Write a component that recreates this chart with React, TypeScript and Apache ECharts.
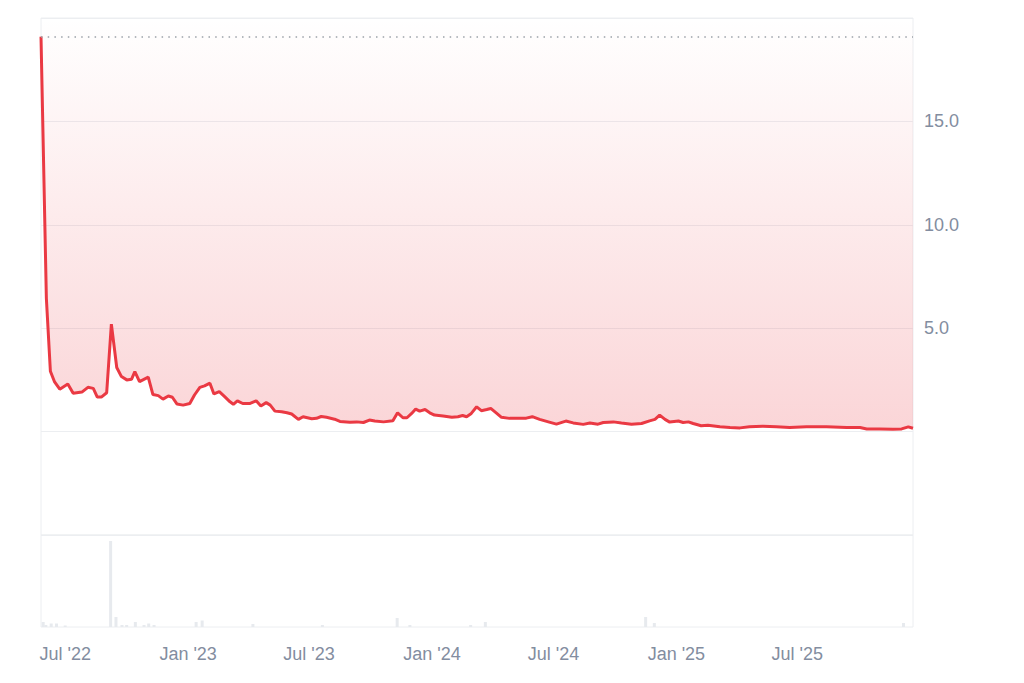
import React, { useEffect, useRef } from "react";
import * as echarts from "echarts";

const priceDates = [
  "2022-05-28", "2022-06-05", "2022-06-11", "2022-06-17", "2022-06-25", "2022-07-07", "2022-07-15", "2022-07-28",
  "2022-08-06", "2022-08-14", "2022-08-20", "2022-08-26", "2022-09-03", "2022-09-10", "2022-09-18", "2022-09-25",
  "2022-10-03", "2022-10-10", "2022-10-15", "2022-10-22", "2022-11-04", "2022-11-11", "2022-11-19", "2022-11-26",
  "2022-12-04", "2022-12-10", "2022-12-17", "2022-12-26", "2023-01-05", "2023-01-12", "2023-01-20", "2023-01-27",
  "2023-02-04", "2023-02-10", "2023-02-18", "2023-02-26", "2023-03-06", "2023-03-11", "2023-03-17", "2023-03-25",
  "2023-04-05", "2023-04-14", "2023-04-21", "2023-04-29", "2023-05-05", "2023-05-12", "2023-05-22", "2023-05-30",
  "2023-06-06", "2023-06-16", "2023-06-23", "2023-07-06", "2023-07-13", "2023-07-20", "2023-07-28", "2023-08-09",
  "2023-08-17", "2023-09-01", "2023-09-11", "2023-09-21", "2023-09-30", "2023-10-08", "2023-10-21", "2023-11-04",
  "2023-11-11", "2023-11-19", "2023-11-25", "2023-12-02", "2023-12-08", "2023-12-14", "2023-12-22", "2023-12-29",
  "2024-01-05", "2024-01-18", "2024-01-31", "2024-02-09", "2024-02-16", "2024-02-22", "2024-02-29", "2024-03-08",
  "2024-03-15", "2024-03-23", "2024-03-29", "2024-04-07", "2024-04-14", "2024-04-26", "2024-05-11", "2024-05-21",
  "2024-05-30", "2024-06-10", "2024-06-23", "2024-07-05", "2024-07-19", "2024-07-30", "2024-08-14", "2024-08-24",
  "2024-09-05", "2024-09-13", "2024-09-28", "2024-10-10", "2024-10-25", "2024-11-09", "2024-11-21", "2024-11-29",
  "2024-12-06", "2024-12-14", "2024-12-21", "2025-01-03", "2025-01-10", "2025-01-18", "2025-01-25", "2025-02-06",
  "2025-02-16", "2025-03-06", "2025-03-21", "2025-04-05", "2025-04-19", "2025-05-09", "2025-05-29", "2025-06-18",
  "2025-07-13", "2025-08-12", "2025-09-11", "2025-10-01", "2025-10-11", "2025-10-30", "2025-11-19", "2025-12-02",
  "2025-12-12", "2025-12-19",
];

const priceValues = [
  19.1, 6.45, 2.92, 2.42, 2.05, 2.3, 1.85, 1.91,
  2.14, 2.09, 1.67, 1.67, 1.88, 5.2, 3.1, 2.66,
  2.5, 2.53, 2.9, 2.42, 2.63, 1.79, 1.74, 1.57,
  1.72, 1.66, 1.33, 1.28, 1.36, 1.77, 2.14, 2.21,
  2.34, 1.82, 1.93, 1.69, 1.44, 1.32, 1.49, 1.36,
  1.36, 1.49, 1.24, 1.4, 1.28, 0.99, 0.96, 0.91,
  0.85, 0.59, 0.72, 0.62, 0.64, 0.73, 0.69, 0.6,
  0.49, 0.45, 0.47, 0.44, 0.56, 0.51, 0.47, 0.52,
  0.91, 0.67, 0.67, 0.88, 1.09, 0.99, 1.07, 0.91,
  0.8, 0.75, 0.69, 0.72, 0.78, 0.72, 0.88, 1.2,
  1.01, 1.07, 1.12, 0.88, 0.69, 0.64, 0.64, 0.65,
  0.72, 0.59, 0.47, 0.36, 0.51, 0.42, 0.35, 0.42,
  0.36, 0.44, 0.47, 0.42, 0.36, 0.39, 0.52, 0.59,
  0.8, 0.59, 0.46, 0.51, 0.44, 0.47, 0.39, 0.28,
  0.31, 0.23, 0.2, 0.18, 0.23, 0.26, 0.23, 0.2,
  0.23, 0.23, 0.2, 0.2, 0.13, 0.13, 0.11, 0.13,
  0.23, 0.16,
];

const volumeDates = [
  "2022-05-29", "2022-06-02", "2022-06-10", "2022-06-18", "2022-07-01", "2022-09-07", "2022-09-15", "2022-09-24",
  "2022-10-01", "2022-10-14", "2022-10-27", "2022-11-03", "2022-11-11", "2023-01-13", "2023-01-22", "2023-04-08",
  "2023-07-21", "2023-11-10", "2023-11-29", "2024-02-28", "2024-03-21", "2024-11-16", "2024-11-29", "2025-12-07",
];

const volumeValues = [
  5, 2, 3.5, 3.5, 1.5, 86, 10, 2,
  2, 5, 2, 3.5, 2, 5, 6.5, 3,
  2, 9, 2, 2, 5, 10, 4, 4,
];

const yTicks = [5, 10, 15];
const monthNames = ["Jan", "Feb", "Mar", "Apr", "May", "Jun", "Jul", "Aug", "Sep", "Oct", "Nov", "Dec"];

const START = "2022-05-28";
const END = "2025-12-19";
const DAY = 86400000;

export default function App() {
  const ref = useRef<HTMLDivElement>(null);

  useEffect(() => {
    if (!ref.current) return;
    const chart = echarts.init(ref.current, undefined, { renderer: "svg" });
    const priceData = priceDates.map((d, i) => [d, priceValues[i]]);
    const volumeData = volumeDates.map((d, i) => [d, volumeValues[i]]);
    const labelColor = "#838da0";
    const borderColor = "#eceef1";
    const font = "'Liberation Sans', Arial, sans-serif";

    chart.setOption({
      animation: false,
      backgroundColor: "#ffffff",
      grid: [
        { left: 41, right: 111, top: 18, height: 517, show: true, borderColor, borderWidth: 1, backgroundColor: "transparent" },
        { left: 41, right: 111, top: 535, height: 92, show: true, borderColor, borderWidth: 1, backgroundColor: "transparent" },
      ],
      xAxis: [
        {
          type: "time",
          gridIndex: 0,
          min: START,
          max: END,
          show: false,
          splitLine: { show: false },
        },
        {
          type: "time",
          gridIndex: 1,
          min: START,
          max: END,
          splitNumber: 7,
          minInterval: 180 * DAY,
          maxInterval: 184 * DAY,
          axisLine: { show: false },
          axisTick: { show: false },
          splitLine: { show: false },
          axisLabel: {
            color: labelColor,
            fontSize: 18,
            fontFamily: font,
            margin: 18,
            hideOverlap: false,
            formatter: (v: number) => {
              const d = new Date(v);
              return monthNames[d.getMonth()] + " '" + String(d.getFullYear()).slice(2);
            },
          },
        },
      ],
      yAxis: [
        {
          type: "value",
          gridIndex: 0,
          position: "right",
          min: -5,
          max: 20,
          interval: 5,
          axisLine: { show: false },
          axisTick: { show: false },
          splitLine: { show: true, lineStyle: { color: borderColor, width: 1 } },
          axisLabel: {
            color: labelColor,
            fontSize: 18,
            fontFamily: font,
            margin: 11,
            formatter: (v: number) => (yTicks.indexOf(v) >= 0 ? v.toFixed(1) : ""),
          },
        },
        {
          type: "value",
          gridIndex: 1,
          min: 0,
          max: 92,
          show: false,
          splitLine: { show: false },
        },
      ],
      series: [
        {
          type: "line",
          xAxisIndex: 0,
          yAxisIndex: 0,
          data: priceData,
          showSymbol: false,
          symbol: "none",
          lineStyle: { color: "#ea3943", width: 3 },
          areaStyle: {
            origin: "end",
            color: new echarts.graphic.LinearGradient(0, 0, 0, 1, [
              { offset: 0, color: "rgba(234,57,67,0.0)" },
              { offset: 1, color: "rgba(234,57,67,0.3)" },
            ]),
          },
          markLine: {
            silent: true,
            symbol: "none",
            label: { show: false },
            lineStyle: { color: "#9ba1a8", type: [1.5, 5.2], width: 1.5 },
            data: [{ type: "max" }],
          },
        },
        {
          type: "bar",
          xAxisIndex: 1,
          yAxisIndex: 1,
          data: volumeData,
          barWidth: 3,
          itemStyle: { color: "#e7eaee" },
        },
      ],
    });

    return () => chart.dispose();
  }, []);

  return (
    <div
      ref={ref}
      style={{ position: "fixed", left: 0, top: 0, width: 1024, height: 683, background: "#fff" }}
    />
  );
}
